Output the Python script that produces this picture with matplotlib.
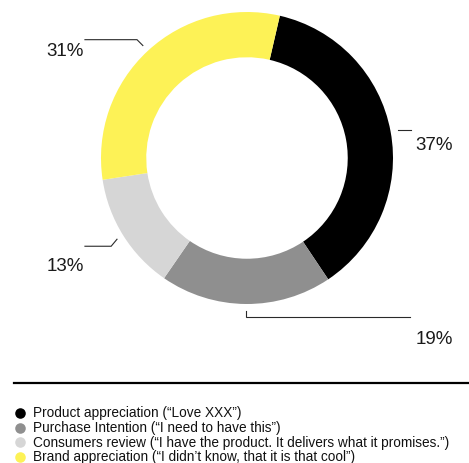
import numpy as np
import matplotlib.pyplot as plt

plt.rcParams['font.family'] = ['Liberation Sans', 'DejaVu Sans']

# share of each response type, clockwise from the top
categories = [
    "Product appreciation (\u201cLove XXX\u201d)",
    "Purchase Intention (\u201cI need to have this\u201d)",
    "Consumers review (\u201cI have the product. It delivers what it promises.\u201d)",
    "Brand appreciation (\u201cI didn\u2019t know, that it is that cool\u201d)",
]
shares = [37, 19, 13, 31]
colors = ["#000000", "#8f8f8f", "#d6d6d6", "#fdf256"]

# leader layout per slice: elbow offset, end x, label anchor (pie units)
elbows = [(0.0, 0.0), (0.0, -0.041), (-0.040, -0.048), (-0.040, 0.040)]
line_end_x = [1.123, 1.116, -1.110, -1.110]
label_pos = [(1.151, 0.090), (1.158, -1.236), (-1.375, -0.733), (-1.375, 0.733)]

W, H = 469, 464
fig = plt.figure(figsize=(W / 100, H / 100), dpi=100)

# donut: centre (247, 159) px, outer radius 146 px
cx, cy, r = 247, 159, 146
ax = fig.add_axes([(cx - r) / W, (H - cy - r) / H, 2 * r / W, 2 * r / H])
wedges, _ = ax.pie(shares, colors=colors, startangle=77, counterclock=False,
                   radius=1.0, wedgeprops=dict(width=0.31, linewidth=0))
ax.set_xlim(-1, 1)
ax.set_ylim(-1, 1)
ax.set_aspect('equal')
ax.axis('off')

for w, val, (ex, ey), x_end, (tx, ty) in zip(wedges, shares, elbows, line_end_x, label_pos):
    mid = np.deg2rad((w.theta1 + w.theta2) / 2)
    x0, y0 = 1.05 * np.cos(mid), 1.05 * np.sin(mid)
    x1, y1 = x0 + ex, y0 + ey
    ax.plot([x0, x1, x_end], [y0, y1, y1], color="#2a2a2a", lw=0.8,
            clip_on=False, solid_joinstyle='miter')
    ax.text(tx, ty, f"{val}%", fontsize=13.5, color="#1a1a1a",
            ha='left', va='center', clip_on=False)

# separator and legend, laid out in pixel coordinates
leg = fig.add_axes([0, 0, 1, 1])
leg.set_xlim(0, W)
leg.set_ylim(H, 0)
leg.axis('off')
leg.plot([14, W], [384, 384], color="black", lw=1.6)

for i, (lab, col) in enumerate(zip(categories, colors)):
    y = 413 + i * 14.8
    leg.plot(19.5, y + 0.8, 'o', ms=7.6, color=col, mec='none')
    leg.text(33, y, lab, fontsize=9.8, color="#111111", ha='left', va='center')

fig.savefig("out.png", dpi=100)
plt.close(fig)
